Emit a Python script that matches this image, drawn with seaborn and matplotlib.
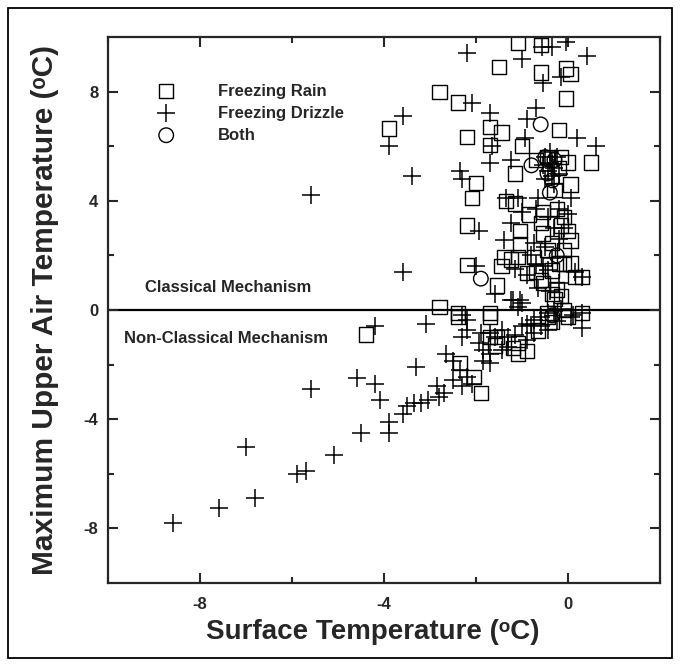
import matplotlib
matplotlib.use("Agg")
import matplotlib.pyplot as plt
import seaborn as sns
import pandas as pd
from matplotlib.patches import Rectangle

# freezing rain (squares)
rain_x = [-1.1, -0.6, -1.5, -0.6, -0.05, 0.05, -0.05, -2.8, -2.4, -3.9, -2.2, -1.7, -1.7,
          -1.45, -1.0, -0.2, 0.5, -1.15, -2.0, -2.1, -0.15, 0.05, 0.0, -1.35, -1.15, -2.2,
          -1.05, -0.6, -0.55, -0.1, 0.0, 0.05, -1.4, -1.1, -2.2, -1.55, -0.7, -0.55, -0.2,
          0.05, 0.3, -0.25, -0.15, -1.05, -0.35, -0.75, -0.45, -0.2, -0.7, -0.3, -0.25,
          -0.55, -0.85, -0.15, -0.45, -0.1, -1.45, -1.25, -0.9, -0.6, -0.35, -0.1, 0.15,
          -0.35, -0.3, -2.8, -2.4, -1.7, -0.45, -0.1, 0.3, -2.4, -1.7, -1.7, -1.55, -1.1,
          -1.1, -1.9, -2.05, -2.35, -0.45, -0.35, 0.0, -0.65, -4.4, -1.6, -1.2, -0.9]
rain_y = [9.8, 9.7, 8.9, 8.7, 8.85, 8.65, 7.75, 8.0, 7.6, 6.65, 6.35, 6.7, 6.05,
          6.5, 6.0, 6.6, 5.4, 5.0, 4.65, 4.1, 5.6, 4.6, 5.4, 4.0, 3.9, 3.1,
          2.9, 3.2, 2.8, 3.4, 2.9, 2.55, 1.95, 1.95, 1.65, 0.9, 1.4, 1.0, 1.7,
          1.7, 1.2, 0.75, 0.5, 2.4, 2.45, 1.95, 5.6, 5.2, 5.5, 4.4, 3.7,
          3.6, 3.5, 3.1, 2.2, 2.2, 1.6, 1.85, 1.35, 1.1, 1.45, 1.7, 1.2,
          0.6, 0.4, 0.1, -0.1, -0.1, -0.1, 0.0, -0.1, -0.25, -0.25, -1.0, -1.0, -1.6,
          -1.2, -3.05, -2.45, -1.95, -0.25, -0.45, -0.25, -0.75, -0.9, -1.3, -1.4, -1.5]

# freezing drizzle (plus signs)
drizzle_x = [-8.6, -7.6, -6.8, -7.0, -5.9, -5.7, -5.1, -5.6, -4.6, -4.2, -4.1, -4.5, -3.9,
             -3.9, -3.6, -3.5, -3.35, -3.2, -3.05, -2.8, -3.3, -4.2, -3.1, -5.6, -3.6, -3.4,
             -3.9, -3.6, -2.1, -2.2, -1.0, -0.56, -0.36, -0.05, 0.4, -0.55, -0.15, -1.7,
             -1.65, -1.7, -0.95, -0.9, -0.7, 0.2, 0.6, -1.25, -2.35, -2.3, -1.95, -2.0, -1.6,
             -1.35, -1.1, -0.65, 0.05, -1.25, -1.4, -0.75, -0.1, -0.7, -0.45, 0.3, -0.2,
             -1.0, -0.5, -0.4, -0.3, -0.45, -0.35, -0.25, -0.55, -0.4, -0.3, -0.2, -0.5,
             -0.35, -0.7, -0.45, -0.3, -0.2, -0.5, -0.35, -0.8, -1.0, -0.9, -1.15, -0.55,
             -0.2, 0.0, 0.15, -0.65, -0.4, -2.2, -2.2, -2.3, -2.65, -2.5, -2.35, -2.2,
             -2.85, -2.7, -1.95, -1.85, -1.7, -1.45, -1.3, -1.9, -1.7, -1.45, -1.25, -1.1,
             -1.0, -0.9, -0.75, -0.6, -0.45, -0.3, -0.15, -0.75, -0.9, -0.6, -0.45, 0.3,
             0.3, 0.05, -1.85, -1.7, -2.1, -2.5, -2.3, -2.3, -1.2, -1.05, -1.6, -1.3,
             -1.15, -0.8, -0.25, 0.1]
drizzle_y = [-7.8, -7.25, -6.9, -5.0, -6.0, -5.9, -5.3, -2.9, -2.5, -2.7, -3.3, -4.5, -4.5,
             -4.1, -3.8, -3.5, -3.4, -3.4, -3.3, -3.2, -2.1, -0.6, -0.5, 4.2, 1.4, 4.9,
             6.0, 7.1, 7.6, 9.4, 9.2, 9.65, 9.65, 9.8, 9.3, 8.3, 8.55, 7.2,
             6.0, 5.4, 6.3, 7.0, 7.4, 6.3, 6.0, 5.5, 5.1, 4.8, 2.9, 1.6, 0.6,
             4.1, 4.1, 4.1, 4.1, 3.2, 2.55, 2.45, 3.0, 1.7, 1.45, 1.2, 1.0,
             0.25, 5.6, 5.4, 5.2, 5.1, 4.9, 5.6, 5.3, 5.8, 4.6, 5.0, 4.8,
             5.35, 3.7, 3.4, 3.0, 2.6, 2.3, 1.9, 2.0, 3.6, 1.3, 1.5, 1.6,
             3.7, 3.5, 1.4, 0.8, 0.7, -0.35, -0.75, -1.0, -1.6, -1.85, -2.2, -2.45,
             -2.8, -3.05, -1.2, -1.45, -1.6, -1.45, -1.35, -0.85, -0.85, -0.75, 0.35, 0.1,
             -0.6, -0.5, -0.35, -0.25, -0.1, -0.05, 0.05, -0.85, -1.1, -0.6, -0.75, -0.1,
             -0.65, -0.25, -1.85, -1.95, -2.7, -2.55, -2.8, -0.2, 0.35, 0.35, -1.0, -1.0,
             -0.9, -0.55, -0.4, -0.2]

# both (circles)
both_x = [-0.6, -0.8, -0.45, -0.35, -0.3, -1.9, -0.5, -0.4, -0.25, -0.35]
both_y = [6.8, 5.3, 5.0, 4.75, 5.5, 1.15, 5.6, 4.3, 2.0, -0.2]

series_names = ["Freezing Rain", "Freezing Drizzle", "Both"]

rain = pd.DataFrame({"surface": rain_x, "upper": rain_y})
drizzle = pd.DataFrame({"surface": drizzle_x, "upper": drizzle_y})
both = pd.DataFrame({"surface": both_x, "upper": both_y})

sns.set_style("ticks")
plt.rcParams["font.family"] = ["Liberation Sans", "DejaVu Sans"]
plt.rcParams["font.weight"] = "bold"
plt.rcParams["axes.unicode_minus"] = False

fig = plt.figure(figsize=(6.8, 6.66), dpi=100)
ax = fig.add_axes([0.159, 0.1246, 0.812, 0.8198])

sns.scatterplot(data=rain, x="surface", y="upper", marker="s", s=105,
                facecolor="none", edgecolor="black", linewidth=1.0,
                label=series_names[0], ax=ax)
sns.scatterplot(data=drizzle, x="surface", y="upper", marker="+", s=170,
                color="black", linewidth=1.1, label=series_names[1], ax=ax)
sns.scatterplot(data=both, x="surface", y="upper", marker="o", s=110,
                facecolor="none", edgecolor="black", linewidth=1.0,
                label=series_names[2], ax=ax)

ax.axhline(0, color="black", linewidth=1.6, zorder=0)

ax.set_xlim(-10, 2)
ax.set_ylim(-10, 10)
ax.set_xticks([-8, -4, 0])
ax.set_xticks([-10, -6, -2, 2], minor=True)
ax.set_yticks([-8, -4, 0, 4, 8])
ax.set_yticks([-6, -2, 2, 6], minor=True)
ax.tick_params(which="both", direction="in", top=True, right=True, width=1.5,
               labelsize=12)
ax.tick_params(which="major", length=7)
ax.tick_params(which="minor", length=4)
ax.tick_params(axis="x", which="major", pad=10)
ax.tick_params(axis="y", which="major", pad=7)
for lbl in ax.get_xticklabels() + ax.get_yticklabels():
    lbl.set_fontweight("bold")
for sp in ax.spines.values():
    sp.set_linewidth(1.6)

ax.set_xlabel("Surface Temperature (ᵒC)", fontsize=20, fontweight="bold")
ax.set_ylabel("Maximum Upper Air Temperature (ᵒC)", fontsize=21.5, fontweight="bold")
ax.xaxis.set_label_coords(0.48, -0.09)
ax.xaxis.label.set_va("center")
ax.yaxis.set_label_coords(-0.114, 0.5)
ax.yaxis.label.set_va("center")
ax.yaxis.label.set_ha("center")

ax.text(-9.19, 0.84, "Classical Mechanism", fontsize=12, fontweight="bold",
        va="center", ha="left")
ax.text(-9.65, -1.03, "Non-Classical Mechanism", fontsize=12, fontweight="bold",
        va="center", ha="left")

ax.legend(loc="upper left", bbox_to_anchor=(0.075, 0.93), frameon=False,
          borderpad=0, handlelength=1.0, handletextpad=2.6, labelspacing=0.42,
          prop={"size": 12, "weight": "bold"})

fig.patches.append(Rectangle((0.012, 0.012), 0.976, 0.976, transform=fig.transFigure,
                             fill=False, edgecolor="black", linewidth=1.3))

fig.savefig("out.png", dpi=100)
